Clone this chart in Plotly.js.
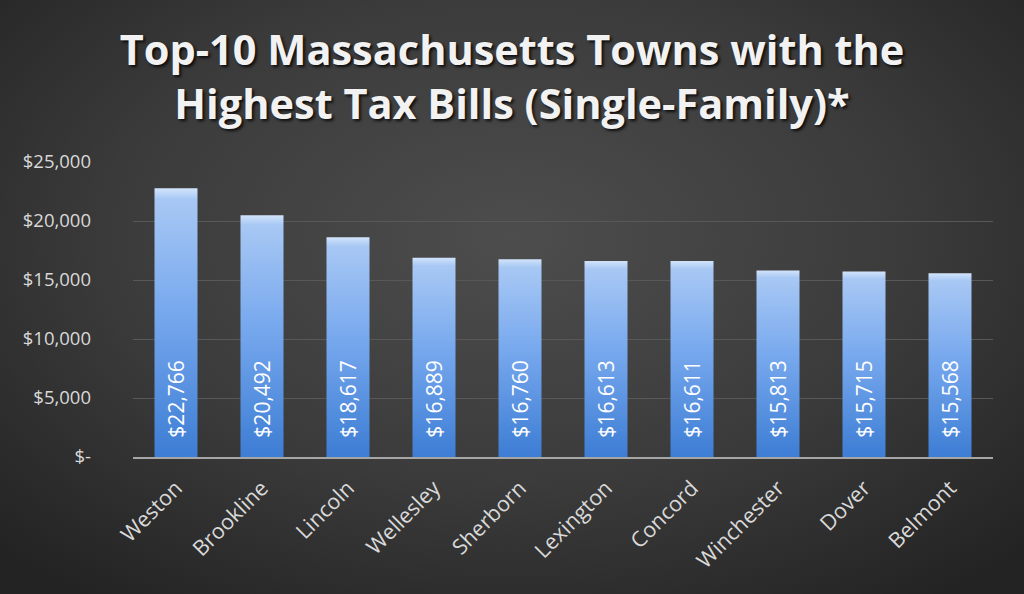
<!DOCTYPE html>
<html>
<head>
<meta charset="utf-8">
<script src="https://cdn.plot.ly/plotly-3.0.1.min.js"></script>
<style>
html,body{margin:0;padding:0;background:#2b2b2b;}
#chart{width:1024px;height:594px;background:radial-gradient(ellipse 70% 75% at 50% 40%, #4d4d4d 0%, #3b3b3b 55%, #232323 100%);}
.gtitle{text-shadow:2px 2px 3px rgba(0,0,0,0.8);}
</style>
</head>
<body>
<div id="chart"></div>
<script>
const towns = ["Weston","Brookline","Lincoln","Wellesley","Sherborn","Lexington","Concord","Winchester","Dover","Belmont"];
const taxBills = [22766,20492,18617,16889,16760,16613,16611,15813,15715,15568];
const yTickVals = [0,5000,10000,15000,20000,25000];
const yTickText = ["$-","$5,000","$10,000","$15,000","$20,000","$25,000"];

const font = "Open Sans, Lato, sans-serif";

const trace = {
  type: "bar",
  x: towns,
  y: taxBills,
  texttemplate: "\u00a0\u00a0\u00a0%{y:$,}",
  textposition: "inside",
  insidetextanchor: "start",
  textangle: -90,
  textfont: {family: font, size: 21, color: "#ffffff"},
  marker: {color: "#6b9fe6", line: {width: 0}},
  hoverinfo: "x+y"
};

const layout = {
  width: 1024, height: 594,
  paper_bgcolor: "rgba(0,0,0,0)",
  plot_bgcolor: "rgba(0,0,0,0)",
  margin: {l: 133, r: 31, t: 162, b: 137},
  bargap: 0.5,
  showlegend: false,
  title: {
    text: "Top-10 Massachusetts Towns with the<br>Highest Tax Bills (Single-Family)*",
    font: {family: font, size: 41.5, color: "#f2f2f2", weight: "bold"},
    x: 0.5, xanchor: "center", yref: "container", y: 0.89, yanchor: "middle"
  },
  xaxis: {
    tickangle: -45,
    tickfont: {family: font, size: 21.5, color: "#d9d9d9"},
    showline: true, linecolor: "#a6a6a6", linewidth: 2,
    ticks: "", showgrid: false, automargin: false,
    ticklabelstandoff: 8
  },
  yaxis: {
    range: [0, 25000],
    tickvals: yTickVals,
    ticktext: yTickText,
    tickfont: {family: font, size: 18.5, color: "#d9d9d9"},
    showgrid: true, gridcolor: "#585858", gridwidth: 1,
    zeroline: false, showline: false, ticks: "", ticklen: 0,
    automargin: false,
    ticklabelstandoff: 41
  }
};

Plotly.newPlot("chart", [trace], layout, {displayModeBar: false, responsive: false}).then(function(gd){
  const svg = gd.querySelector("svg.main-svg");
  const ns = "http://www.w3.org/2000/svg";
  let defs = svg.querySelector("defs");
  if (!defs) { defs = document.createElementNS(ns, "defs"); svg.insertBefore(defs, svg.firstChild); }
  const g = document.createElementNS(ns, "linearGradient");
  g.setAttribute("id", "barGrad");
  g.setAttribute("x1", "0"); g.setAttribute("y1", "0");
  g.setAttribute("x2", "0"); g.setAttribute("y2", "1");
  [["0%","#d2e4fb"],["4%","#a8c8f4"],["45%","#78a9ee"],["100%","#3d7dd4"]].forEach(function(s){
    const st = document.createElementNS(ns, "stop");
    st.setAttribute("offset", s[0]); st.setAttribute("stop-color", s[1]);
    g.appendChild(st);
  });
  defs.appendChild(g);
  gd.querySelectorAll(".bars .point path").forEach(function(p){
    p.style.fill = "url(#barGrad)";
  });
});
</script>
</body>
</html>
